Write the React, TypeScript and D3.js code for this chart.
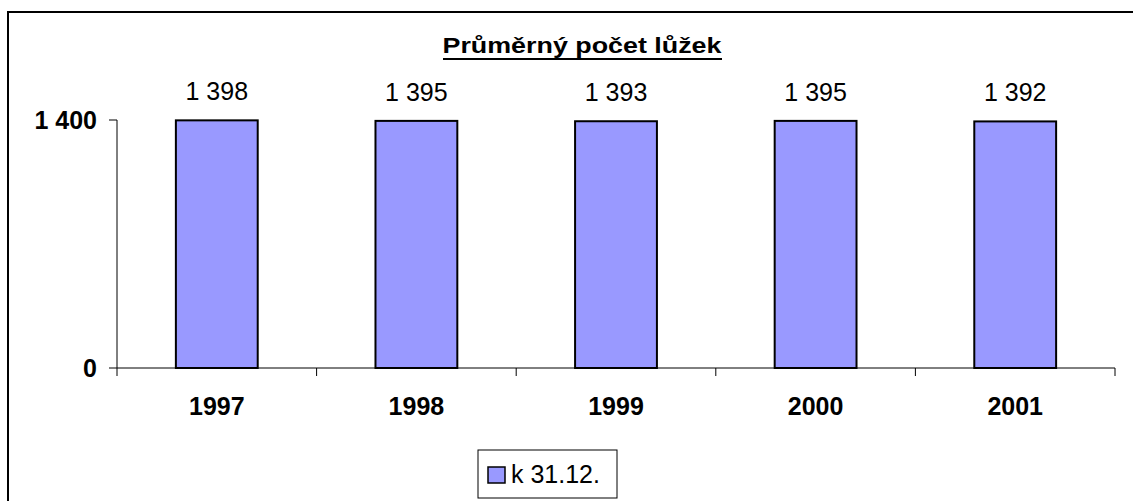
import React from 'react';
import * as d3 from 'd3';

const years = ['1997', '1998', '1999', '2000', '2001'];
const beds = [1398, 1395, 1393, 1395, 1392];
const yTicks = [0, 1400];
const valueLabels = ['1 398', '1 395', '1 393', '1 395', '1 392'];
const yTickLabels = ['0', '1 400'];
const seriesName = 'k 31.12.';
const title = 'Průměrný počet lůžek';

const W = 1133;
const H = 501;
const FONT = '"Liberation Sans", Arial, sans-serif';

const App = () => {
  // plot area
  const plot = { left: 117, right: 1115, top: 120, bottom: 368 };

  const x = d3
    .scaleBand()
    .domain(years)
    .range([plot.left, plot.right])
    .paddingInner(0.59)
    .paddingOuter(0.295);

  const y = d3.scaleLinear().domain([0, 1400]).range([plot.bottom, plot.top]);

  // band edges for the category tick marks
  const step = (plot.right - plot.left) / years.length;
  const catTicks = d3.range(years.length + 1).map((i) => plot.left + i * step);

  return (
    <svg
      width={W}
      height={H}
      style={{ position: 'absolute', left: 0, top: 0, background: '#fff' }}
      fontFamily={FONT}
    >
      {/* outer chart frame, runs off right and bottom */}
      <rect x={8} y={12} width={W + 20} height={H + 20} fill="#fff" stroke="#000" strokeWidth={2} />

      {/* title */}
      <text
        x={582}
        y={53}
        textAnchor="middle"
        fontSize={22}
        fontWeight="bold"
        textLength={279}
        lengthAdjust="spacingAndGlyphs"
      >
        {title}
      </text>
      <line x1={443} x2={722} y1={59} y2={59} stroke="#000" strokeWidth={2} />

      {/* bars */}
      {beds.map((v, i) => (
        <rect
          key={years[i]}
          x={x(years[i])}
          y={y(v)}
          width={x.bandwidth()}
          height={y(0) - y(v)}
          fill="#9999ff"
          stroke="#000"
          strokeWidth={2}
        />
      ))}

      {/* value labels */}
      {beds.map((v, i) => (
        <text
          key={'v' + years[i]}
          x={(x(years[i]) as number) + x.bandwidth() / 2}
          y={y(v) - 20}
          textAnchor="middle"
          fontSize={25}
        >
          {valueLabels[i]}
        </text>
      ))}

      {/* y axis */}
      <line x1={plot.left} x2={plot.left} y1={y(1400)} y2={y(0)} stroke="#000" strokeWidth={1} />
      {yTicks.map((t, i) => (
        <g key={'yt' + t}>
          <line x1={plot.left - 8} x2={plot.left} y1={y(t)} y2={y(t)} stroke="#000" strokeWidth={1} />
          <text
            x={plot.left - 20}
            y={y(t) + 9}
            textAnchor="end"
            fontSize={25}
            fontWeight="bold"
          >
            {yTickLabels[i]}
          </text>
        </g>
      ))}

      {/* x axis */}
      <line x1={plot.left} x2={plot.right} y1={y(0)} y2={y(0)} stroke="#000" strokeWidth={1} />
      {catTicks.map((cx) => (
        <line key={'xt' + cx} x1={cx} x2={cx} y1={y(0)} y2={y(0) + 8} stroke="#000" strokeWidth={1} />
      ))}
      {years.map((yr) => (
        <text
          key={'xl' + yr}
          x={(x(yr) as number) + x.bandwidth() / 2}
          y={415}
          textAnchor="middle"
          fontSize={25}
          fontWeight="bold"
        >
          {yr}
        </text>
      ))}

      {/* legend */}
      <rect x={478} y={450} width={139} height={48} fill="#fff" stroke="#000" strokeWidth={1} />
      <rect x={488} y={467} width={17} height={16} fill="#9999ff" stroke="#000" strokeWidth={1.5} />
      <text x={511} y={483} fontSize={25}>
        {seriesName}
      </text>
    </svg>
  );
};

export default App;
